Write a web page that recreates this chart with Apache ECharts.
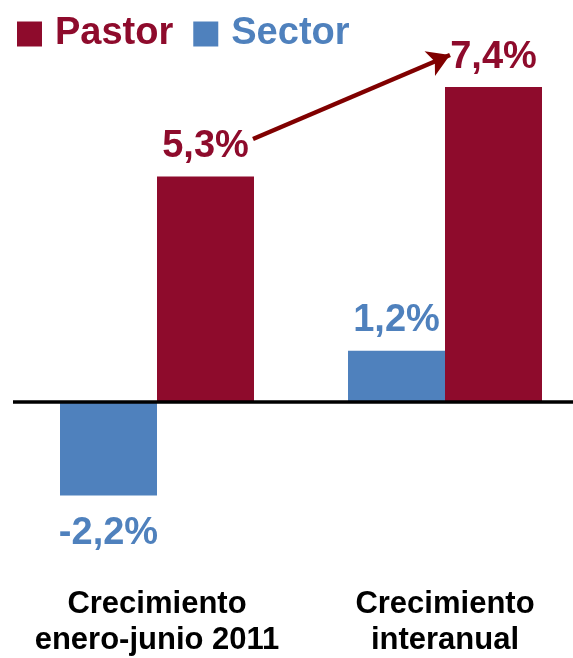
<!DOCTYPE html>
<html>
<head>
<meta charset="utf-8">
<script src="https://cdn.jsdelivr.net/npm/echarts@6/dist/echarts.min.js"></script>
<style>
html,body{margin:0;padding:0;background:#fff;overflow:hidden;}
#c{width:589px;height:658px;}
</style>
</head>
<body>
<div id="c"></div>
<script>
var categories = ['Crecimiento\nenero-junio 2011', 'Crecimiento\ninteranual'];
var sectorValues = [-2.2, 1.2];
var pastorValues = [5.3, 7.4];
var legendNames = ['Pastor', 'Sector'];

var MAROON = '#8E0B2C';
var BLUE = '#4F81BD';
var FONT = '"Liberation Sans", Arial, sans-serif';

function fmt(p) { return String(p.value).replace('.', ',') + '%'; }

function buildData(vals) {
  return vals.map(function (v) {
    return {
      value: v,
      label: {
        position: v < 0 ? 'bottom' : 'top',
        distance: v < 0 ? 19 : 11
      }
    };
  });
}

var chart = echarts.init(document.getElementById('c'), null, {renderer: 'canvas'});
chart.setOption({
  animation: false,
  backgroundColor: '#fff',
  legend: {
    data: [
      { name: legendNames[0], textStyle: { color: MAROON } },
      { name: legendNames[1], textStyle: { color: BLUE } }
    ],
    left: 12,
    top: 10,
    itemWidth: 25,
    itemHeight: 25,
    itemGap: 20,
    icon: 'rect',
    textStyle: {
      fontFamily: FONT,
      fontWeight: 'bold',
      fontSize: 38,
      padding: [0, 0, 0, 8]
    }
  },
  grid: { left: 13, right: 0, top: 19, height: 556 },
  xAxis: {
    type: 'category',
    data: categories,
    axisLine: { show: false, onZero: false },
    axisTick: { show: false },
    axisLabel: {
      interval: 0,
      hideOverlap: false,
      margin: 14,
      color: '#000',
      fontFamily: FONT,
      fontWeight: 'bold',
      fontSize: 31,
      lineHeight: 36
    }
  },
  yAxis: {
    type: 'value',
    min: -4,
    max: 9,
    show: false,
    splitLine: { show: false }
  },
  series: [
    {
      name: 'Sector',
      type: 'bar',
      barWidth: 97,
      barGap: '0%',
      itemStyle: { color: BLUE },
      label: {
        show: true,
        formatter: fmt,
        color: BLUE,
        fontFamily: FONT,
        fontWeight: 'bold',
        fontSize: 38
      },
      data: buildData(sectorValues),
      markLine: {
        silent: true,
        symbol: ['none', 'none'],
        label: { show: false },
        lineStyle: { color: '#000', width: 3.5, type: 'solid' },
        data: [{ yAxis: 0 }]
      }
    },
    {
      name: 'Pastor',
      type: 'bar',
      barWidth: 97,
      barGap: '0%',
      itemStyle: { color: MAROON },
      label: {
        show: true,
        formatter: fmt,
        color: MAROON,
        fontFamily: FONT,
        fontWeight: 'bold',
        fontSize: 38
      },
      data: buildData(pastorValues),
      markLine: {
        silent: true,
        symbol: ['none', 'arrow'],
        symbolSize: [20, 22],
        label: { show: false },
        lineStyle: { color: '#800000', width: 4.5, type: 'solid' },
        data: [[{ x: 253, y: 139 }, { x: 450, y: 55 }]]
      }
    }
  ]
});
</script>
</body>
</html>
